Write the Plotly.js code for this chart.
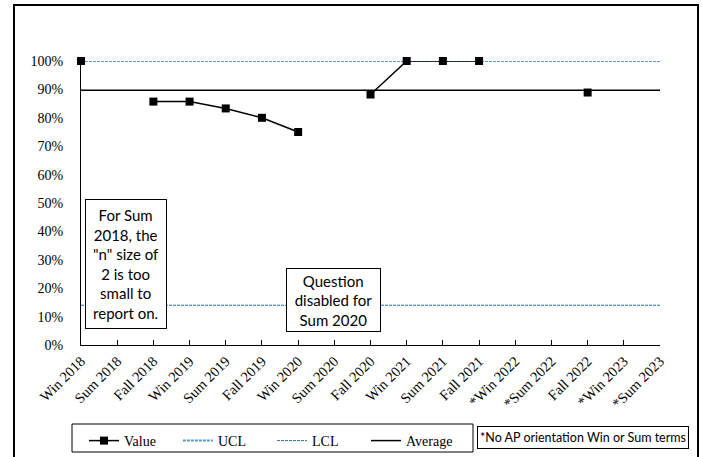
<!DOCTYPE html>
<html>
<head>
<meta charset="utf-8">
<script src="https://cdn.plot.ly/plotly-3.0.1.min.js"></script>
<style>html,body{margin:0;padding:0;background:#fff;}#chart{width:702px;height:457px;}</style>
</head>
<body>
<div id="chart"></div>
<script>
const categories = ["Win 2018","Sum 2018","Fall 2018","Win 2019","Sum 2019","Fall 2019","Win 2020","Sum 2020","Fall 2020","Win 2021","Sum 2021","Fall 2021","*Win 2022","*Sum 2022","Fall 2022","*Win 2023","*Sum 2023"];
const values = [1.00, null, 0.857, 0.857, 0.833, 0.80, 0.75, null, 0.882, 1.00, 1.00, 1.00, null, null, 0.889, null, null];
const ucl = categories.map(() => 1.00);
const lcl = categories.map(() => 0.14);
const average = categories.map(() => 0.897);
const yTickVals = [0,0.1,0.2,0.3,0.4,0.5,0.6,0.7,0.8,0.9,1.0];
const noteSum2018 = "For Sum<br>2018, the<br>\"n\" size of<br>2 is too<br>small to<br>report on.";
const noteSum2020 = "Question<br>disabled for<br>Sum 2020";
const footnote = "*No AP orientation Win or Sum terms";

const serif = "Liberation Serif, Times New Roman, serif";
const sans = "Lato, Carlito, Calibri, sans-serif";

const traces = [
  {x: categories, y: lcl, name: "LCL", mode: "lines", cliponaxis: false, legendrank: 3,
   line: {color: "#1f6fb5", width: 1, dash: "3px,1px"}},
  {x: categories, y: ucl, name: "UCL", mode: "lines", cliponaxis: false, legendrank: 2,
   line: {color: "#5b9bd5", width: 2, dash: "3px,1px"}},
  {x: categories, y: average, name: "Average", mode: "lines", cliponaxis: false, legendrank: 4,
   line: {color: "#000", width: 1.5}},
  {x: categories, y: values, name: "Value", mode: "lines+markers", connectgaps: false, cliponaxis: false, legendrank: 1,
   line: {color: "#000", width: 1.5}, marker: {symbol: "square", size: 8, color: "#000"}}
];

const L = 81, R = 660, T = 61, B = 345;
const px = x => (x - L) / (R - L);
const py = y => (B - y) / (B - T);

const layout = {
  width: 702, height: 457,
  margin: {l: L, r: 702 - R, t: T, b: 457 - B, pad: 0, autoexpand: false},
  paper_bgcolor: "#fff", plot_bgcolor: "#fff",
  showlegend: true,
  font: {family: serif, size: 14, color: "#000"},
  xaxis: {type: "category", range: [0, categories.length - 1], showgrid: false, zeroline: false,
          showline: true, linecolor: "#000", linewidth: 1, automargin: false,
          ticks: "inside", ticklen: 5, tickcolor: "#000", tickwidth: 1,
          tickangle: -45, tickfont: {family: serif, size: 14.5, color: "#000"}, ticklabelstandoff: 1,
          fixedrange: true},
  yaxis: {range: [0, 1], tickvals: yTickVals, tickformat: ".0%", showgrid: false, zeroline: false,
          showline: true, linecolor: "#000", linewidth: 1, ticks: "", automargin: false,
          tickfont: {family: serif, size: 14, color: "#000"}, ticklabelstandoff: 14, fixedrange: true},
  legend: {orientation: "h", x: px(84), y: py(425), xanchor: "left", yanchor: "top",
           borderwidth: 0, bgcolor: "rgba(0,0,0,0)",
           entrywidth: 49, entrywidthmode: "pixels", traceorder: "normal",
           font: {family: serif, size: 14, color: "#000"}, tracegroupgap: 0},
  shapes: [
    {type: "rect", xref: "paper", yref: "paper", x0: px(14), x1: px(698), y0: py(500), y1: py(5),
     line: {color: "#000", width: 2}, fillcolor: "rgba(0,0,0,0)"},
    {type: "rect", xref: "paper", yref: "paper", x0: px(72), x1: px(473), y0: py(452), y1: py(424),
     line: {color: "#000", width: 1}, fillcolor: "rgba(0,0,0,0)"}
  ],
  annotations: [
    {xref: "paper", yref: "paper", x: px(126), y: py(264), xanchor: "center", yanchor: "middle",
     text: noteSum2018, showarrow: false, align: "center", width: 80, height: 128,
     bordercolor: "#000", borderwidth: 1, bgcolor: "#fff", borderpad: 0,
     font: {family: sans, size: 15, color: "#000"}},
    {xref: "paper", yref: "paper", x: px(333.5), y: py(300), xanchor: "center", yanchor: "middle",
     text: noteSum2020, showarrow: false, align: "center", width: 93, height: 62,
     bordercolor: "#000", borderwidth: 1, bgcolor: "#fff", borderpad: 0,
     font: {family: sans, size: 15, color: "#000"}},
    {xref: "paper", yref: "paper", x: px(583), y: py(437.5), xanchor: "center", yanchor: "middle",
     text: footnote, showarrow: false, align: "center", width: 210, height: 21,
     bordercolor: "#000", borderwidth: 1, bgcolor: "#fff", borderpad: 0,
     font: {family: sans, size: 12.5, color: "#000"}}
  ]
};

Plotly.newPlot("chart", traces, layout, {staticPlot: true, displayModeBar: false});
</script>
</body>
</html>
